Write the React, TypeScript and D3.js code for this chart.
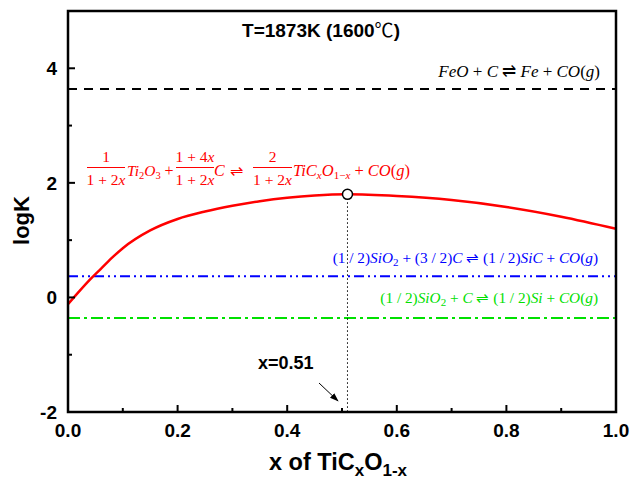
import React from 'react';
import * as d3 from 'd3';

// curve
const xValues = [0, 0.02, 0.04, 0.06, 0.08, 0.1, 0.15, 0.2, 0.25, 0.3, 0.35, 0.4, 0.45, 0.51, 0.6, 0.7, 0.8, 0.9, 1.0];
const logKValues = [-0.12, 0.1, 0.31, 0.5, 0.69, 0.86, 1.17, 1.37, 1.5, 1.6, 1.68, 1.74, 1.78, 1.8, 1.77, 1.7, 1.58, 1.41, 1.2];

const feoLogK = 3.64;
const sicLogK = 0.37;
const siLogK = -0.36;
const maxX = 0.51;
const maxLogK = 1.8;

const xMajorTicks = [0, 0.2, 0.4, 0.6, 0.8, 1.0];
const xMinorTicks = [0.1, 0.3, 0.5, 0.7, 0.9];
const yMajorTicks = [-2, 0, 2, 4];
const yMinorTicks = [-1, 1, 3];

const W = 633;
const H = 481;
const margin = { top: 11, right: 17, bottom: 69, left: 68 };

const serif = '"Liberation Serif", "Times New Roman", serif';
const sans = '"Liberation Sans", Arial, sans-serif';

const Frac = ({ x, w, num, den, color }: any) => (
    <g fill={color} fontFamily={serif} fontSize={15.5}>
        <text x={x + w / 2} y={162} textAnchor="middle">{num}</text>
        <line x1={x} x2={x + w} y1={167.5} y2={167.5} stroke={color} strokeWidth={1} />
        <text x={x + w / 2} y={185} textAnchor="middle">{den}</text>
    </g>
);

const App = () => {
    const x = d3.scaleLinear().domain([0, 1]).range([margin.left, W - margin.right]);
    const y = d3.scaleLinear().domain([-2, 5]).range([H - margin.bottom, margin.top]);

    const pts = xValues.map((v, i) => [v, logKValues[i]] as [number, number]);
    const line = d3.line<[number, number]>()
        .x(d => x(d[0]))
        .y(d => y(d[1]))
        .curve(d3.curveMonotoneX);

    const x0 = x(0);
    const x1 = x(1);
    const yb = y(-2);
    const yt = y(5);
    const red = '#ff0000';
    const blue = '#0000ff';
    const green = '#00e000';
    const it = { fontStyle: 'italic' };

    return (
        <svg width={W} height={H} style={{ position: 'absolute', left: 0, top: 0, background: '#fff' }}>
            {/* reference lines */}
            <line x1={x0} x2={x1} y1={y(feoLogK)} y2={y(feoLogK)} stroke="#000" strokeWidth={2} strokeDasharray="9,7" />
            <line x1={x0} x2={x1} y1={y(sicLogK)} y2={y(sicLogK)} stroke={blue} strokeWidth={2} strokeDasharray="10,4,2,4,2,4" />
            <line x1={x0} x2={x1} y1={y(siLogK)} y2={y(siLogK)} stroke={green} strokeWidth={2} strokeDasharray="12,4,3,4" />

            {/* max marker */}
            <line x1={x(maxX)} x2={x(maxX)} y1={y(maxLogK)} y2={yb} stroke="#000" strokeWidth={1} strokeDasharray="1.5,2.5" />
            <path d={line(pts) || ''} fill="none" stroke={red} strokeWidth={2.5} />
            <circle cx={x(maxX)} cy={y(maxLogK)} r={5} fill="#fff" stroke="#000" strokeWidth={1.5} />

            {/* ticks */}
            {xMajorTicks.map(t => (
                <line key={'xM' + t} x1={x(t)} x2={x(t)} y1={yb} y2={yb - 7} stroke="#000" strokeWidth={2} />
            ))}
            {xMinorTicks.map(t => (
                <line key={'xm' + t} x1={x(t)} x2={x(t)} y1={yb} y2={yb - 4} stroke="#000" strokeWidth={2} />
            ))}
            {yMajorTicks.map(t => (
                <line key={'yM' + t} x1={x0} x2={x0 + 7} y1={y(t)} y2={y(t)} stroke="#000" strokeWidth={2} />
            ))}
            {yMinorTicks.map(t => (
                <line key={'ym' + t} x1={x0} x2={x0 + 4} y1={y(t)} y2={y(t)} stroke="#000" strokeWidth={2} />
            ))}

            {/* frame */}
            <rect x={x0} y={yt} width={x1 - x0} height={yb - yt} fill="none" stroke="#000" strokeWidth={2.5} />

            {/* tick labels */}
            <g fontFamily={sans} fontWeight="bold" fontSize={19} fill="#000">
                {xMajorTicks.map(t => (
                    <text key={'xl' + t} x={x(t)} y={yb + 25} textAnchor="middle">{t.toFixed(1)}</text>
                ))}
                {yMajorTicks.map(t => (
                    <text key={'yl' + t} x={x0 - 11} y={y(t) + 7} textAnchor="end">{t}</text>
                ))}
            </g>

            {/* axis titles */}
            <text transform={`translate(29,${(yt + yb) / 2 + 9}) rotate(-90)`} textAnchor="middle"
                fontFamily={sans} fontWeight="bold" fontSize={22}>logK</text>
            <text x={(x0 + x1) / 2 - 4} y={470} textAnchor="middle" fontFamily={sans} fontWeight="bold" fontSize={23.5}>
                x of TiC<tspan dy={6} fontSize={17}>x</tspan><tspan dy={-6}>O</tspan><tspan dy={6} fontSize={17}>1-x</tspan>
            </text>

            <text x={321} y={37} textAnchor="middle" fontFamily={sans} fontWeight="bold" fontSize={19}>
                T=1873K (1600<tspan fontFamily='"Noto Sans CJK SC", sans-serif' fontWeight="normal">℃</tspan>)
            </text>

            {/* x = 0.51 annotation */}
            <text x={258} y={369} fontFamily={sans} fontWeight="bold" fontSize={18}>x=0.51</text>
            <defs>
                <marker id="ah" viewBox="0 0 10 10" refX={9} refY={5} markerWidth={9} markerHeight={9} orient="auto">
                    <path d="M0,1.5 L10,5 L0,8.5 Z" fill="#000" />
                </marker>
            </defs>
            <line x1={319} y1={383} x2={338} y2={401} stroke="#000" strokeWidth={1} markerEnd="url(#ah)" />

            {/* equations */}
            <text x={600} y={77} textAnchor="end" fontFamily={serif} fontSize={17} fill="#000">
                <tspan {...it}>FeO</tspan> + <tspan {...it}>C</tspan> ⇌ <tspan {...it}>Fe</tspan> + <tspan {...it}>CO</tspan>(<tspan {...it}>g</tspan>)
            </text>

            <Frac x={87} w={38} num="1" den={<>1 + 2<tspan {...it}>x</tspan></>} color={red} />
            <text x={127} y={176} fontFamily={serif} fontSize={15.5} fill={red}>
                <tspan {...it}>Ti</tspan><tspan dy={3} fontSize={10.5}>2</tspan><tspan dy={-3} {...it}>O</tspan><tspan dy={3} fontSize={10.5}>3</tspan>
            </text>
            <text x={164.5} y={176} fontFamily={serif} fontSize={16} fill={red}>+</text>
            <Frac x={176} w={38} num={<>1 + 4<tspan {...it}>x</tspan></>} den={<>1 + 2<tspan {...it}>x</tspan></>} color={red} />
            <text x={214} y={176} fontFamily={serif} fontSize={16} fill={red}><tspan {...it}>C</tspan></text>
            <text x={230} y={176} fontFamily={serif} fontSize={16} fill={red}>⇌</text>
            <Frac x={253} w={39} num="2" den={<>1 + 2<tspan {...it}>x</tspan></>} color={red} />
            <text x={293} y={176} fontFamily={serif} fontSize={16.5} fill={red}>
                <tspan {...it}>TiC</tspan><tspan dy={3} fontSize={11} {...it}>x</tspan><tspan dy={-3} {...it}>O</tspan><tspan dy={3} fontSize={11}>1−<tspan {...it}>x</tspan></tspan><tspan dy={-3}> + </tspan><tspan {...it}>CO</tspan>(<tspan {...it}>g</tspan>)
            </text>

            <text x={598} y={263} textAnchor="end" fontFamily={serif} fontSize={15.3} fill={blue}>
                (1 / 2)<tspan {...it}>SiO</tspan><tspan dy={3} fontSize={11}>2</tspan><tspan dy={-3}> + (3 / 2)</tspan><tspan {...it}>C</tspan> ⇌ (1 / 2)<tspan {...it}>SiC</tspan> + <tspan {...it}>CO</tspan>(<tspan {...it}>g</tspan>)
            </text>
            <text x={598} y={303} textAnchor="end" fontFamily={serif} fontSize={15.3} fill={green}>
                (1 / 2)<tspan {...it}>SiO</tspan><tspan dy={3} fontSize={11}>2</tspan><tspan dy={-3}> + </tspan><tspan {...it}>C</tspan> ⇌ (1 / 2)<tspan {...it}>Si</tspan> + <tspan {...it}>CO</tspan>(<tspan {...it}>g</tspan>)
            </text>
        </svg>
    );
};

export default App;
